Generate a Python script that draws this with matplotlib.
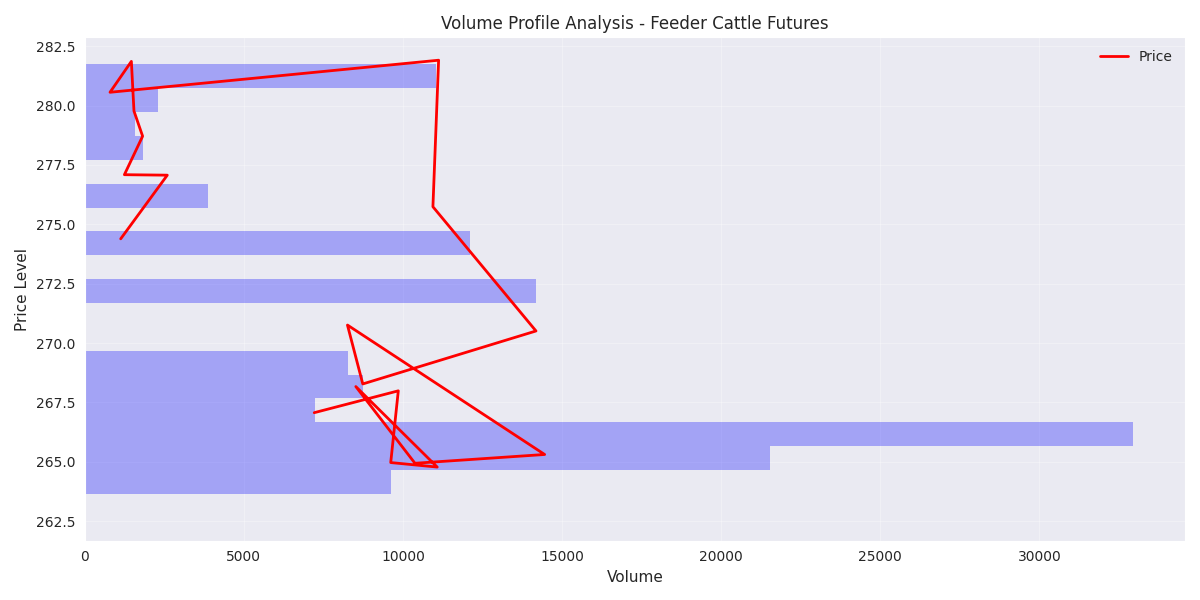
import matplotlib
matplotlib.use('Agg')
import matplotlib.pyplot as plt
import seaborn as sns

# volume profile bins (price level centres, bottom to top) and summed volume
price_levels = [263.145, 264.150, 265.155, 266.160, 267.165, 268.170, 269.175,
                270.180, 271.185, 272.190, 273.195, 274.200, 275.205, 276.210,
                277.215, 278.220, 279.225, 280.230, 281.235]
level_volume = [0, 9634, 21527, 32930, 7249, 8755, 8284, 0,
                0, 14173, 0, 12103, 0, 3860, 0, 1820,
                1569, 2291, 11046]
bin_height = 1.005

# daily observations: volume vs price
day_volume = [7211, 9853, 9615, 11076, 8518, 10377, 14452, 8255, 8737, 14180,
              10941, 11120, 793, 1464, 1546, 1818, 1245, 2593, 1129]
day_price = [267.07, 267.99, 264.97, 264.78, 268.17, 264.94, 265.31, 270.76,
             268.28, 270.51, 275.74, 281.91, 280.56, 281.86, 279.77, 278.71,
             277.09, 277.07, 274.39]


def main():
    sns.set_style('darkgrid')
    plt.rcParams['font.family'] = ['DejaVu Sans']
    fig, ax = plt.subplots(figsize=(12, 6), dpi=100)

    ax.barh(price_levels, level_volume, height=bin_height, color='blue',
            alpha=0.3, linewidth=0)
    ax.plot(day_volume, day_price, color='red', linewidth=2, label='Price')

    ax.set_title('Volume Profile Analysis - Feeder Cattle Futures', fontsize=12)
    ax.set_xlabel('Volume', fontsize=11)
    ax.set_ylabel('Price Level', fontsize=11)
    ax.legend(loc='upper right', frameon=False)
    ax.grid(True, alpha=0.3)

    plt.tight_layout()
    fig.savefig('out.png')


if __name__ == '__main__':
    main()
